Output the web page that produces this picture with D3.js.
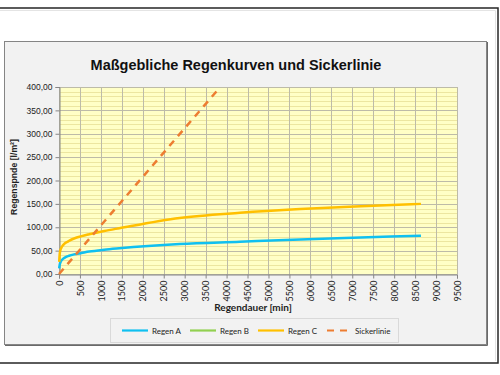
<!DOCTYPE html>
<html><head><meta charset="utf-8">
<script src="https://cdn.jsdelivr.net/npm/d3@7"></script>
<style>body{margin:0;background:#fff}svg{display:block}</style>
</head><body>
<script>
// ---- data ----
const durations = [5,10,15,20,30,45,60,90,120,180,240,360,540,720,1080,1440,2880,4320,5760,7200,8640];
const regenA = [12,16,19,21,24,27,29,32,34,37,39,42,45,48,52,55,64,69,74,78,82];
const regenB = []; // not visible in the picture
const regenC = [26,35,41,45,50,54,57,61,64,68,71,76,81,85,92,98,120,131,139,145,150];
const sickerX = [0,3850];
const sickerY = [0,400];
const xTicks = d3.range(0,9501,500);
const yTicks = d3.range(0,401,50);
const legendLabels = ["Regen A","Regen B","Regen C","Sickerlinie"];
const colors = ["#10c0f0","#92d050","#ffc000","#ed7d31"];

const W=500,H=375;
const svg=d3.select("body").append("svg").attr("width",W).attr("height",H);

// outer frame
svg.append("rect").attr("x",-3).attr("y",8).attr("width",501).attr("height",355)
  .attr("fill","#fff").attr("stroke","#262626").attr("stroke-width",1.5);
svg.append("path").attr("d","M0,10.5H495.5V361").attr("fill","none").attr("stroke","#e4e4e4");

// chart area
svg.append("rect").attr("x",4.5).attr("y",41.5).attr("width",482).attr("height",303)
  .attr("fill","#f2f2f2").attr("stroke","#858585").attr("stroke-width",1);
svg.append("path").attr("d","M487.5,42V345.5H5").attr("fill","none").attr("stroke","#6a6a6a").attr("stroke-width",1);

const m={l:59,r:457,t:87,b:274};
const x=d3.scaleLinear().domain([0,9500]).range([m.l,m.r]);
const y=d3.scaleLinear().domain([0,400]).range([m.b,m.t]);

svg.append("rect").attr("x",m.l).attr("y",m.t).attr("width",m.r-m.l).attr("height",m.b-m.t).attr("fill","#ffffc6");

// minor gridlines
svg.append("g").selectAll("line").data(d3.range(0,401,10).filter(v=>v%50!==0)).join("line")
  .attr("x1",m.l).attr("x2",m.r).attr("y1",d=>Math.round(y(d))+0.5).attr("y2",d=>Math.round(y(d))+0.5)
  .attr("stroke","#ece6a0").attr("stroke-width",1);
// major gridlines
svg.append("g").selectAll("line").data(yTicks).join("line")
  .attr("x1",m.l).attr("x2",m.r).attr("y1",d=>Math.round(y(d))+0.5).attr("y2",d=>Math.round(y(d))+0.5)
  .attr("stroke","#bdbba8").attr("stroke-width",1);
svg.append("g").selectAll("line").data(xTicks).join("line")
  .attr("y1",m.t).attr("y2",m.b).attr("x1",d=>Math.round(x(d))+0.5).attr("x2",d=>Math.round(x(d))+0.5)
  .attr("stroke","#bdbba8").attr("stroke-width",1);

// axes
const yAxis=svg.append("g").attr("transform",`translate(${m.l+0.5},0)`)
  .call(d3.axisLeft(y).tickValues(yTicks).tickSize(4).tickFormat(d=>d3.format(".2f")(d).replace(".",",")));
yAxis.select(".domain").attr("stroke","#868686");
yAxis.selectAll(".tick line").attr("stroke","#868686");
yAxis.selectAll("text").attr("font-family","Liberation Sans, Arial, sans-serif").attr("font-size",8.5).attr("fill","#222").attr("x",-7);

const xAxis=svg.append("g").attr("transform",`translate(0,${m.b+0.5})`)
  .call(d3.axisBottom(x).tickValues(xTicks).tickSize(4).tickFormat(d=>d));
xAxis.select(".domain").attr("stroke","#868686");
xAxis.selectAll(".tick line").attr("stroke","#868686");
xAxis.selectAll("text").attr("font-family","Lato, 'Open Sans', sans-serif").attr("font-size",9).attr("fill","#222")
  .attr("transform","rotate(-90)").attr("text-anchor","end").attr("x",-6).attr("y",0).attr("dy","0.35em");

// lines
const line=d3.line().x(d=>x(d[0])).y(d=>y(d[1])).curve(d3.curveMonotoneX);
const series=[regenA,regenB,regenC];
series.forEach((s,i)=>{
  if(!s.length) return;
  const pts=durations.map((dd,j)=>[dd,s[j]]);
  svg.append("path").attr("d",line(pts)).attr("fill","none").attr("stroke",colors[i]).attr("stroke-width",2.5);
});
svg.append("path").attr("d",d3.line().x(d=>x(d[0])).y(d=>y(d[1]))(sickerX.map((v,i)=>[v,sickerY[i]])))
  .attr("fill","none").attr("stroke",colors[3]).attr("stroke-width",2.5).attr("stroke-dasharray","7,6");

// titles
svg.append("text").attr("x",236).attr("y",70).attr("text-anchor","middle")
  .attr("font-family","Liberation Sans, Arial, sans-serif").attr("font-weight","bold").attr("font-size",14.5).attr("fill","#111")
  .text("Maßgebliche Regenkurven und Sickerlinie");
svg.append("text").attr("transform","translate(17,177) rotate(-90)").attr("text-anchor","middle")
  .attr("font-family","Liberation Sans, Arial, sans-serif").attr("font-weight","bold").attr("font-size",8.7).attr("fill","#222")
  .text("Regenspnde [l/m²]");
svg.append("text").attr("x",253).attr("y",311).attr("text-anchor","middle")
  .attr("font-family","Lato, 'Open Sans', sans-serif").attr("font-weight","bold").attr("font-size",10).attr("fill","#222")
  .text("Regendauer [min]");

// legend
svg.append("rect").attr("x",110.5).attr("y",318.5).attr("width",288).attr("height",24)
  .attr("fill","#f2f2f2").attr("stroke","#d9d9d9");
const lx=[122,190,258,327];
legendLabels.forEach((t,i)=>{
  const g=svg.append("g");
  g.append("line").attr("x1",lx[i]).attr("x2",lx[i]+26).attr("y1",330.5).attr("y2",330.5)
    .attr("stroke",colors[i]).attr("stroke-width",2.2).attr("stroke-dasharray",i===3?"7,6":null);
  g.append("text").attr("x",lx[i]+(i===3?28:30)).attr("y",333.5)
    .attr("font-family","Lato, 'Open Sans', sans-serif").attr("font-size",8).attr("fill","#222").text(t);
});
</script>
</body></html>
